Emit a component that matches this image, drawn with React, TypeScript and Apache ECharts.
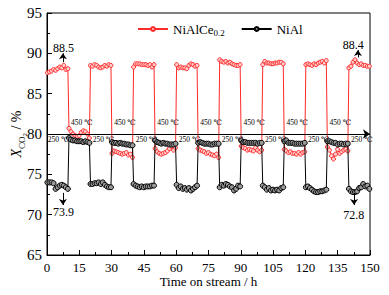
import React, { useEffect, useRef } from "react";
import * as echarts from "echarts";

// hour offsets of the points inside each 10 h segment
const offsets = [0.2, 1.15, 2.1, 3.05, 4.0, 4.95, 5.9, 6.85, 7.8, 8.75, 9.7];

// NiAlCe0.2 – 250 °C segments (0-10, 20-30, ...)
const ceHigh = [
  [87.6, 87.7, 87.8, 88.0, 87.9, 88.1, 88.3, 88.2, 88.5, 88.0, 88.1],
  [88.5, 88.4, 88.6, 88.5, 88.3, 88.2, 88.3, 88.5, 88.4, 88.6, 88.5],
  [88.3, 88.7, 88.7, 88.7, 88.6, 88.6, 88.6, 88.5, 88.6, 88.3, 88.6],
  [88.6, 88.2, 88.3, 88.2, 88.2, 88.1, 88.5, 88.7, 88.6, 88.4, 88.5],
  [89.2, 89.0, 88.9, 89.0, 88.8, 88.9, 88.7, 88.6, 88.5, 88.5, 88.6],
  [88.6, 89.0, 88.8, 88.8, 88.7, 88.7, 88.8, 88.8, 88.9, 88.9, 88.7],
  [88.6, 88.7, 88.6, 88.5, 88.7, 88.6, 88.8, 88.9, 89.0, 88.8, 89.1],
  [88.2, 88.4, 88.9, 89.2, 88.8, 88.6, 88.7, 88.5, 88.5, 88.4, 88.4],
];
// NiAlCe0.2 – 450 °C segments (10-20, 30-40, ...)
const ceLow = [
  [80.7, 80.3, 80.0, 79.8, 79.7, 79.8, 80.2, 80.4, 80.3, 80.0, 79.5],
  [77.6, 77.9, 77.8, 77.7, 77.6, 77.5, 77.6, 77.7, 77.4, 77.5, 77.1],
  [78.2, 77.8, 77.6, 77.5, 77.6, 77.7, 77.9, 78.2, 78.5, 78.0, 78.3],
  [78.2, 78.0, 77.9, 77.8, 77.6, 77.7, 77.5, 77.4, 77.3, 77.5, 77.1],
  [78.5, 78.3, 78.2, 78.0, 78.1, 78.0, 77.9, 78.3, 78.0, 77.8, 78.0],
  [78.1, 77.9, 77.7, 77.8, 77.6, 77.6, 77.5, 77.7, 77.5, 77.7, 77.8],
  [78.4, 78.0, 77.3, 76.9, 77.5, 78.1, 77.6, 77.8, 78.0, 78.1, 77.9],
];
// NiAl – 450 °C segments
const alHigh = [
  [79.5, 79.3, 79.2, 79.2, 79.1, 79.1, 79.1, 79.0, 79.1, 79.0, 78.9],
  [79.0, 78.9, 78.9, 78.8, 78.9, 78.8, 78.8, 78.7, 78.7, 78.6, 78.6],
  [79.2, 79.0, 78.9, 78.8, 78.9, 78.8, 78.8, 78.7, 78.7, 78.7, 78.8],
  [78.9, 79.0, 78.9, 78.8, 78.8, 78.8, 78.7, 78.7, 78.8, 78.8, 78.8],
  [79.2, 79.0, 79.0, 78.9, 78.9, 78.9, 78.9, 78.9, 78.8, 78.9, 78.9],
  [79.1, 79.2, 78.9, 78.9, 78.9, 78.8, 78.8, 78.8, 78.8, 78.8, 78.9],
  [79.1, 79.1, 79.0, 78.9, 78.9, 78.7, 78.8, 78.8, 78.7, 78.8, 78.8],
];
// NiAl – 250 °C segments
const alLow = [
  [74.0, 74.0, 74.0, 73.9, 73.2, 73.4, 73.6, 73.7, 73.6, 73.4, 73.2],
  [73.8, 73.8, 73.9, 73.9, 74.0, 73.8, 74.0, 73.7, 73.5, 73.4, 73.4],
  [73.8, 73.6, 73.5, 73.4, 73.5, 73.4, 73.5, 73.5, 73.5, 73.6, 73.6],
  [73.7, 73.3, 73.5, 73.2, 73.3, 73.1, 73.3, 73.0, 73.2, 73.4, 73.6],
  [73.4, 73.7, 73.6, 73.8, 73.7, 73.5, 73.4, 73.0, 73.2, 73.6, 73.5],
  [73.6, 73.4, 73.1, 73.3, 73.0, 73.1, 73.0, 73.1, 73.0, 73.3, 73.4],
  [73.4, 73.5, 73.3, 73.1, 72.9, 72.8, 72.8, 72.9, 72.9, 73.0, 73.1],
  [73.2, 72.9, 72.8, 72.8, 72.9, 73.3, 73.4, 73.8, 73.5, 73.6, 73.2],
];

const tempLabels450 = [11.2, 31.2, 51.2, 71.2, 91.2, 111.2, 131.2];
const tempLabels250 = [0.4, 21.2, 41.2, 61.2, 81.2, 101.2, 121.2, 141.2];

// annotations: [x, y, text]
const valueLabels: [number, number, string][] = [
  [7.7, 90.7, "88.5"],
  [142.2, 91.0, "88.4"],
  [7.7, 70.3, "73.9"],
  [142.4, 70.0, "72.8"],
];
const arrows = [
  [7.4, 88.9, 7.4, 90.0],
  [144.4, 89.5, 144.4, 90.4],
  [7.4, 72.7, 7.4, 71.2],
  [142.6, 72.7, 142.6, 71.2],
];

const FONT = "'Liberation Serif', 'Times New Roman', 'DejaVu Serif', serif";

function build(high: number[][], low: number[][], highFirst: boolean) {
  const out: number[][] = [];
  for (let s = 0; s < 15; s++) {
    const even = s % 2 === 0;
    const useHigh = highFirst ? even : !even;
    const idx = Math.floor(s / 2);
    const seg = useHigh ? high[idx] : low[idx];
    seg.forEach((v, i) => out.push([s * 10 + offsets[i], v]));
  }
  return out;
}

export default function App() {
  const ref = useRef<HTMLDivElement>(null);
  useEffect(() => {
    if (!ref.current) return;
    const chart = echarts.init(ref.current, undefined, { renderer: "svg" });
    const ceData = build(ceHigh, ceLow, true);
    const alData = build(alHigh, alLow, false);
    chart.setOption({
      animation: false,
      textStyle: { fontFamily: FONT },
      grid: {
        left: 47,
        right: 19,
        top: 13,
        bottom: 40,
        containLabel: false,
        outerBoundsMode: "none",
        show: true,
        borderColor: "#000",
        borderWidth: 1,
        backgroundColor: "transparent",
      },
      legend: {
        top: 16,
        left: 132,
        itemWidth: 30,
        itemHeight: 5,
        itemGap: 16,
        data: ["NiAlCe0.2", "NiAl"],
        formatter: (n: string) => (n === "NiAlCe0.2" ? "{a|NiAlCe}{s|0.2}" : "{a|NiAl}"),
        textStyle: {
          fontFamily: FONT,
          color: "#000",
          rich: {
            a: { fontSize: 13, fontFamily: FONT, color: "#000", lineHeight: 18 },
            s: { fontSize: 9, fontFamily: FONT, color: "#000", lineHeight: 18, padding: [7, 0, 0, 0] },
          },
        },
      },
      xAxis: {
        type: "value",
        min: 0,
        max: 150,
        interval: 15,
        name: "Time on stream / h",
        nameLocation: "middle",
        nameGap: 20,
        nameMoveOverlap: false,
        nameTextStyle: { fontFamily: FONT, fontSize: 13, color: "#000" },
        axisLine: { lineStyle: { color: "#000", width: 1 } },
        axisTick: { inside: true, length: 5, lineStyle: { color: "#000" } },
        minorTick: { show: true, splitNumber: 2, length: 3, lineStyle: { color: "#000" } },
        axisLabel: { fontFamily: FONT, fontSize: 13, color: "#000", margin: 6 },
        splitLine: { show: false },
      },
      yAxis: {
        type: "value",
        min: 65,
        max: 95,
        interval: 5,
        name: "{x|X}{s|CO}{t|2}{n| / %}",
        nameLocation: "middle",
        nameGap: 24,
        nameMoveOverlap: false,
        nameRotate: 90,
        nameTextStyle: {
          fontFamily: FONT,
          color: "#000",
          rich: {
            x: { fontSize: 14, fontStyle: "italic", fontFamily: FONT, color: "#000", lineHeight: 22, verticalAlign: "bottom" },
            s: { fontSize: 9, fontFamily: FONT, color: "#000", lineHeight: 22, verticalAlign: "bottom", padding: [0, 0, -3, 0] },
            t: { fontSize: 7, fontFamily: FONT, color: "#000", lineHeight: 22, verticalAlign: "bottom", padding: [0, 0, -5, 0] },
            n: { fontSize: 14, fontFamily: FONT, color: "#000", lineHeight: 22, verticalAlign: "bottom" },
          },
        },
        axisLine: { show: true, lineStyle: { color: "#000", width: 1 } },
        axisTick: { inside: true, length: 5, lineStyle: { color: "#000" } },
        minorTick: { show: true, splitNumber: 2, length: 3, lineStyle: { color: "#000" } },
        axisLabel: { fontFamily: FONT, fontSize: 15, color: "#000", margin: 5 },
        splitLine: { show: false },
      },
      series: [
        {
          name: "NiAlCe0.2",
          type: "line",
          data: ceData,
          symbol: "circle",
          symbolSize: 4,
          showAllSymbol: true,
          lineStyle: { color: "#ff2a2a", width: 1 },
          itemStyle: { color: "#ffd0d0", borderColor: "#ff2a2a", borderWidth: 1 },
          z: 2,
        },
        {
          name: "NiAl",
          type: "line",
          data: alData,
          symbol: "circle",
          symbolSize: 5,
          showAllSymbol: true,
          lineStyle: { color: "#000", width: 1 },
          itemStyle: { color: "#999999", borderColor: "#000", borderWidth: 1 },
          z: 3,
          markLine: {
            silent: true,
            symbol: ["none", "arrow"],
            symbolSize: 7,
            label: { show: false },
            lineStyle: { color: "#000", width: 1, type: "solid" },
            itemStyle: { color: "#000" },
            data: [{ yAxis: 80 }],
          },
        },
        {
          name: "arrows",
          type: "line",
          data: [],
          markLine: {
            silent: true,
            symbol: ["none", "arrow"],
            symbolSize: 6,
            label: { show: false },
            lineStyle: { color: "#000", width: 1, type: "solid" },
            itemStyle: { color: "#000" },
            data: arrows.map((a) => [{ coord: [a[0], a[1]] }, { coord: [a[2], a[3]] }]),
          },
        },
      ],
    });

    const txt = (x: number, y: number, text: string, size: number, align: string) => {
      const p = chart.convertToPixel({ gridIndex: 0 }, [x, y]) as number[];
      return {
        type: "text",
        x: p[0],
        y: p[1],
        z: 10,
        silent: true,
        style: {
          text,
          fill: "#000",
          fontFamily: FONT,
          fontSize: size,
          align,
          verticalAlign: "middle",
          textAlign: align,
          textVerticalAlign: "middle",
        },
      };
    };
    const graphics = [
      ...tempLabels450.map((x) => txt(x, 81.4, "450 ℃", 7.5, "left")),
      ...tempLabels250.map((x) => txt(x, 79.35, "250 ℃", 7.5, "left")),
      ...valueLabels.map((v) => txt(v[0], v[1], v[2], 12, "center")),
    ];
    chart.setOption({ graphic: { elements: graphics } });
    return () => chart.dispose();
  }, []);
  return <div ref={ref} style={{ width: 389, height: 295, margin: -8 }} />;
}
